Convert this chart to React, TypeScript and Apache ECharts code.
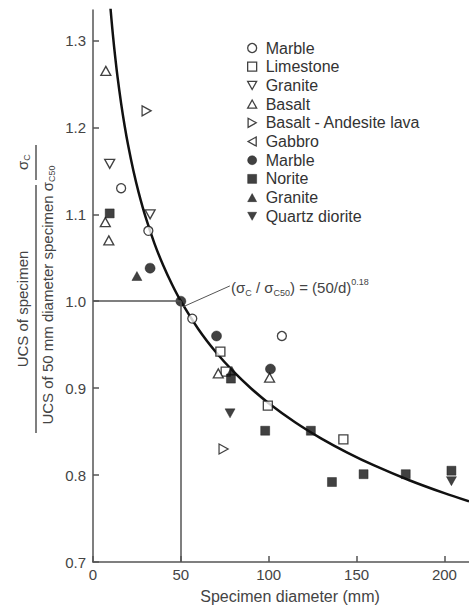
import React, { useEffect, useRef } from "react";
import * as echarts from "echarts";

const FONT = '"Liberation Sans", Arial, Helvetica, sans-serif';
const INK = "#111";
const AXIS = "#555";
const TEXT = "#444";

// Each point: [specimen diameter (mm), UCS / UCS of 50 mm specimen]
const marbleOpen = [[16, 1.13], [31.5, 1.081], [56.5, 0.98], [107.5, 0.96]];
const limestone = [[72.5, 0.942], [75.5, 0.919], [99.5, 0.88], [142.5, 0.841]];
const graniteOpen = [[9.5, 1.158], [32.5, 1.1]];
const basalt = [[7.3, 1.265], [7, 1.091], [9, 1.07], [71.3, 0.917], [100.5, 0.912]];
const basaltAndesite = [[30.5, 1.219], [74.3, 0.83]];
const gabbro: number[][] = [];
const marbleFilled = [[32.5, 1.038], [50, 1.0], [70.3, 0.96], [101, 0.922]];
const norite = [
  [9.5, 1.101], [78.5, 0.911], [98, 0.851], [124, 0.851],
  [136, 0.792], [154, 0.801], [178, 0.801], [204, 0.805],
];
const graniteFilled = [[25, 1.029], [79, 0.92]];
const quartzDiorite = [[78, 0.871], [204, 0.793]];

// Size-effect law written on the chart: sigma_c / sigma_c50 = (50 / d)^0.18
const REF_DIAMETER = 50;
const FIT_EXPONENT = 0.18;
const fitDiameters = [
  9.5, 10, 11, 12, 13, 14, 16, 18, 20, 23, 26, 30, 35, 40, 45, 50,
  60, 70, 80, 90, 100, 115, 130, 145, 160, 180, 200, 214,
];

const xTicks = [0, 50, 100, 150, 200];
const yTicks = [0.7, 0.8, 0.9, 1.0, 1.1, 1.2, 1.3];

// Marker outlines (shared by the plotted points and the legend icons)
const TRI_UP = "path://M5,0L10,9L0,9Z";
const TRI_DOWN = "path://M0,0L10,0L5,9Z";
const TRI_RIGHT = "path://M0,0L9,5L0,10Z";
const TRI_LEFT = "path://M9,0L0,5L9,10Z";

type Def = {
  key: string;
  label: string;
  data: number[][];
  symbol: string;
  filled: boolean;
  size: number | number[];
};

const defs: Def[] = [
  { key: "marble-open", label: "Marble", data: marbleOpen, symbol: "circle", filled: false, size: 9 },
  { key: "limestone", label: "Limestone", data: limestone, symbol: "rect", filled: false, size: 9 },
  { key: "granite-open", label: "Granite", data: graniteOpen, symbol: TRI_DOWN, filled: false, size: [10, 9] },
  { key: "basalt", label: "Basalt", data: basalt, symbol: TRI_UP, filled: false, size: [10, 9] },
  { key: "basalt-andesite", label: "Basalt - Andesite lava", data: basaltAndesite, symbol: TRI_RIGHT, filled: false, size: [9, 10] },
  { key: "gabbro", label: "Gabbro", data: gabbro, symbol: TRI_LEFT, filled: false, size: [9, 10] },
  { key: "marble-filled", label: "Marble", data: marbleFilled, symbol: "circle", filled: true, size: 10 },
  { key: "norite", label: "Norite", data: norite, symbol: "rect", filled: true, size: 9 },
  { key: "granite-filled", label: "Granite", data: graniteFilled, symbol: TRI_UP, filled: true, size: [10, 9] },
  { key: "quartz-diorite", label: "Quartz diorite", data: quartzDiorite, symbol: TRI_DOWN, filled: true, size: [10, 9] },
];

const labelByKey: Record<string, string> = {};
defs.forEach((d) => (labelByKey[d.key] = d.label));

const subStyle = { fontSize: 9, fontFamily: FONT, fill: TEXT, verticalAlign: "bottom" };

export default function App() {
  const ref = useRef<HTMLDivElement>(null);

  useEffect(() => {
    if (!ref.current) return;
    const chart = echarts.init(ref.current, null, { renderer: "svg" });

    const fitData = fitDiameters.map((d) => [d, Math.pow(REF_DIAMETER / d, FIT_EXPONENT)]);

    const scatterSeries = defs.map((d) => ({
      type: "scatter",
      name: d.key,
      data: d.data,
      symbol: d.symbol,
      symbolSize: d.size,
      z: 3,
      itemStyle: d.filled
        ? { color: INK, borderColor: INK, borderWidth: 0.5 }
        : { color: "#fff", borderColor: INK, borderWidth: 1.3 },
    }));

    chart.setOption({
      animation: false,
      backgroundColor: "#fff",
      textStyle: { fontFamily: FONT },
      grid: { left: 93, right: 0, top: 10, bottom: 43, containLabel: false },
      legend: {
        orient: "vertical",
        left: 242,
        top: 35,
        itemWidth: 9,
        itemHeight: 9,
        itemGap: 2.7,
        symbolKeepAspect: true,
        data: defs.map((d) => d.key),
        formatter: (name: string) => labelByKey[name] ?? name,
        textStyle: {
          fontSize: 16,
          lineHeight: 16,
          color: "#333",
          fontFamily: FONT,
          padding: [0, 0, 0, 4],
        },
        itemStyle: { borderWidth: "inherit", borderColor: "inherit" },
        selectedMode: false,
      },
      xAxis: {
        type: "value",
        min: 0,
        max: 214,
        name: "Specimen diameter (mm)",
        nameLocation: "middle",
        nameGap: 26,
        nameTextStyle: { fontSize: 16, color: TEXT, fontFamily: FONT, padding: [0, 0, 0, 18] },
        axisLine: { show: true, onZero: false, lineStyle: { color: AXIS, width: 1.5 } },
        axisTick: { show: true, inside: true, length: 6, customValues: xTicks, lineStyle: { color: AXIS, width: 1.5 } },
        axisLabel: { customValues: xTicks, fontSize: 15, color: TEXT, margin: 5, fontFamily: FONT },
        splitLine: { show: false },
      },
      yAxis: {
        type: "value",
        min: 0.7,
        max: 1.335,
        axisLine: { show: true, onZero: false, lineStyle: { color: AXIS, width: 1.5 } },
        axisTick: { show: true, inside: true, length: 6, customValues: yTicks, lineStyle: { color: AXIS, width: 1.5 } },
        axisLabel: {
          customValues: yTicks,
          fontSize: 15,
          color: TEXT,
          margin: 7,
          fontFamily: FONT,
          formatter: (v: number) => v.toFixed(1),
        },
        splitLine: { show: false },
      },
      series: [
        {
          type: "line",
          name: "fit",
          data: fitData,
          showSymbol: false,
          smooth: 0.3,
          clip: true,
          z: 2,
          lineStyle: { color: INK, width: 2.5 },
          markLine: {
            silent: true,
            symbol: "none",
            label: { show: false },
            lineStyle: { color: AXIS, width: 1.5, type: "solid" },
            data: [
              [{ coord: [0, 1.0] }, { coord: [REF_DIAMETER, 1.0] }],
              [{ coord: [REF_DIAMETER, 0.7] }, { coord: [REF_DIAMETER, 1.0] }],
              [
                { coord: [51.3, 0.9936], lineStyle: { color: AXIS, width: 1 } },
                { coord: [77.9, 1.0176] },
              ],
            ],
          },
        },
        ...scatterSeries,
      ],
      graphic: [
        // law label at the end of the leader line
        {
          type: "text",
          x: 231,
          y: 287,
          style: {
            text: "(σ{sub|C} / σ{sub|C50}) = (50/d){sup|0.18}",
            fontSize: 15,
            lineHeight: 20,
            fontFamily: FONT,
            fill: TEXT,
            align: "left",
            verticalAlign: "middle",
            rich: {
              sub: subStyle,
              sup: { fontSize: 9, fontFamily: FONT, fill: TEXT, verticalAlign: "top" },
            },
          },
        },
        // y-axis title: numerator over denominator, rotated
        {
          type: "text",
          x: 22,
          y: 162,
          rotation: Math.PI / 2,
          style: {
            text: "σ{sub|C}",
            fontSize: 15,
            lineHeight: 18,
            fontFamily: FONT,
            fill: TEXT,
            align: "center",
            verticalAlign: "middle",
            rich: { sub: subStyle },
          },
        },
        {
          type: "text",
          x: 22,
          y: 309,
          rotation: Math.PI / 2,
          style: {
            text: "UCS of specimen",
            fontSize: 15,
            fontFamily: FONT,
            fill: TEXT,
            align: "center",
            verticalAlign: "middle",
          },
        },
        {
          type: "line",
          shape: { x1: 36, y1: 145, x2: 36, y2: 180 },
          style: { stroke: AXIS, lineWidth: 1.5 },
        },
        {
          type: "line",
          shape: { x1: 36, y1: 185, x2: 36, y2: 433 },
          style: { stroke: AXIS, lineWidth: 1.5 },
        },
        {
          type: "text",
          x: 47,
          y: 295,
          rotation: Math.PI / 2,
          style: {
            text: "UCS of 50 mm diameter specimen σ{sub|C50}",
            fontSize: 15,
            lineHeight: 18,
            fontFamily: FONT,
            fill: TEXT,
            align: "center",
            verticalAlign: "middle",
            rich: { sub: subStyle },
          },
        },
      ],
    });

    return () => chart.dispose();
  }, []);

  return (
    <div
      ref={ref}
      style={{ position: "absolute", left: 0, top: 0, width: 469, height: 609, background: "#fff" }}
    />
  );
}
